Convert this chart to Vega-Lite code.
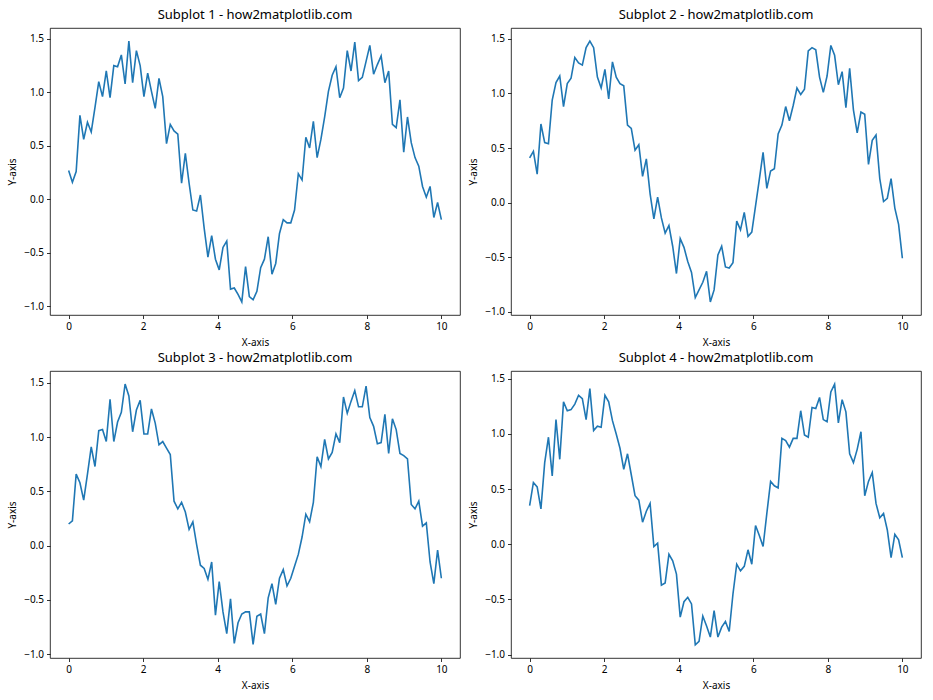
{
  "$schema": "https://vega.github.io/schema/vega-lite/v6.json",
  "padding": {"left": 7, "top": 8, "right": 5, "bottom": 5},
  "background": "white",
  "datasets": {
    "s1": [{"x":0,"y":0.27},{"x":0.101,"y":0.16},{"x":0.202,"y":0.26},{"x":0.303,"y":0.785},{"x":0.404,"y":0.56},{"x":0.505,"y":0.72},{"x":0.606,"y":0.63},{"x":0.707,"y":0.86},{"x":0.808,"y":1.10},{"x":0.909,"y":0.96},
{"x":1.010,"y":1.20},{"x":1.111,"y":0.95},{"x":1.212,"y":1.25},{"x":1.313,"y":1.24},{"x":1.414,"y":1.35},{"x":1.515,"y":1.08},{"x":1.616,"y":1.48},{"x":1.717,"y":1.09},{"x":1.818,"y":1.39},{"x":1.919,"y":1.25},
{"x":2.020,"y":0.96},{"x":2.121,"y":1.18},{"x":2.222,"y":1.01},{"x":2.323,"y":0.85},{"x":2.424,"y":1.13},{"x":2.525,"y":0.96},{"x":2.626,"y":0.52},{"x":2.727,"y":0.70},{"x":2.828,"y":0.64},{"x":2.929,"y":0.61},
{"x":3.030,"y":0.15},{"x":3.131,"y":0.43},{"x":3.232,"y":0.15},{"x":3.333,"y":-0.10},{"x":3.434,"y":-0.11},{"x":3.535,"y":0.04},{"x":3.636,"y":-0.27},{"x":3.737,"y":-0.54},{"x":3.838,"y":-0.34},{"x":3.939,"y":-0.56},
{"x":4.040,"y":-0.66},{"x":4.141,"y":-0.45},{"x":4.242,"y":-0.39},{"x":4.343,"y":-0.84},{"x":4.444,"y":-0.83},{"x":4.545,"y":-0.89},{"x":4.646,"y":-0.96},{"x":4.747,"y":-0.63},{"x":4.848,"y":-0.91},{"x":4.949,"y":-0.94},
{"x":5.051,"y":-0.86},{"x":5.152,"y":-0.64},{"x":5.253,"y":-0.56},{"x":5.354,"y":-0.35},{"x":5.455,"y":-0.70},{"x":5.556,"y":-0.60},{"x":5.657,"y":-0.32},{"x":5.758,"y":-0.19},{"x":5.859,"y":-0.22},{"x":5.960,"y":-0.22},
{"x":6.061,"y":-0.10},{"x":6.162,"y":0.24},{"x":6.263,"y":0.18},{"x":6.364,"y":0.58},{"x":6.465,"y":0.48},{"x":6.566,"y":0.73},{"x":6.667,"y":0.39},{"x":6.768,"y":0.56},{"x":6.869,"y":0.77},{"x":6.970,"y":1.01},
{"x":7.071,"y":1.16},{"x":7.172,"y":1.24},{"x":7.273,"y":0.95},{"x":7.374,"y":1.04},{"x":7.475,"y":1.39},{"x":7.576,"y":1.20},{"x":7.677,"y":1.47},{"x":7.778,"y":1.11},{"x":7.879,"y":1.14},{"x":7.980,"y":1.29},
{"x":8.081,"y":1.44},{"x":8.182,"y":1.17},{"x":8.283,"y":1.26},{"x":8.384,"y":1.34},{"x":8.485,"y":1.09},{"x":8.586,"y":1.20},{"x":8.687,"y":0.70},{"x":8.788,"y":0.67},{"x":8.889,"y":0.93},{"x":8.990,"y":0.44},
{"x":9.091,"y":0.77},{"x":9.192,"y":0.53},{"x":9.293,"y":0.39},{"x":9.394,"y":0.31},{"x":9.495,"y":0.12},{"x":9.596,"y":0.02},{"x":9.697,"y":0.12},{"x":9.798,"y":-0.17},{"x":9.899,"y":-0.03},{"x":10,"y":-0.19}],
    "s2": [{"x":0,"y":0.41},{"x":0.101,"y":0.47},{"x":0.202,"y":0.26},{"x":0.303,"y":0.72},{"x":0.404,"y":0.55},{"x":0.505,"y":0.54},{"x":0.606,"y":0.94},{"x":0.707,"y":1.10},{"x":0.808,"y":1.16},{"x":0.909,"y":0.88},
{"x":1.010,"y":1.09},{"x":1.111,"y":1.14},{"x":1.212,"y":1.33},{"x":1.313,"y":1.28},{"x":1.414,"y":1.26},{"x":1.515,"y":1.42},{"x":1.616,"y":1.48},{"x":1.717,"y":1.42},{"x":1.818,"y":1.15},{"x":1.919,"y":1.05},
{"x":2.020,"y":1.22},{"x":2.121,"y":0.95},{"x":2.222,"y":1.29},{"x":2.323,"y":1.15},{"x":2.424,"y":1.09},{"x":2.525,"y":1.07},{"x":2.626,"y":0.71},{"x":2.727,"y":0.68},{"x":2.828,"y":0.48},{"x":2.929,"y":0.53},
{"x":3.030,"y":0.24},{"x":3.131,"y":0.40},{"x":3.232,"y":0.08},{"x":3.333,"y":-0.15},{"x":3.434,"y":0.05},{"x":3.535,"y":-0.14},{"x":3.636,"y":-0.28},{"x":3.737,"y":-0.21},{"x":3.838,"y":-0.40},{"x":3.939,"y":-0.65},
{"x":4.040,"y":-0.33},{"x":4.141,"y":-0.41},{"x":4.242,"y":-0.54},{"x":4.343,"y":-0.64},{"x":4.444,"y":-0.87},{"x":4.545,"y":-0.80},{"x":4.646,"y":-0.73},{"x":4.747,"y":-0.63},{"x":4.848,"y":-0.91},{"x":4.949,"y":-0.80},
{"x":5.051,"y":-0.48},{"x":5.152,"y":-0.40},{"x":5.253,"y":-0.59},{"x":5.354,"y":-0.60},{"x":5.455,"y":-0.55},{"x":5.556,"y":-0.17},{"x":5.657,"y":-0.25},{"x":5.758,"y":-0.09},{"x":5.859,"y":-0.31},{"x":5.960,"y":-0.27},
{"x":6.061,"y":-0.03},{"x":6.162,"y":0.21},{"x":6.263,"y":0.46},{"x":6.364,"y":0.13},{"x":6.465,"y":0.29},{"x":6.566,"y":0.31},{"x":6.667,"y":0.63},{"x":6.768,"y":0.71},{"x":6.869,"y":0.88},{"x":6.970,"y":0.75},
{"x":7.071,"y":0.89},{"x":7.172,"y":1.05},{"x":7.273,"y":0.99},{"x":7.374,"y":1.04},{"x":7.475,"y":1.39},{"x":7.576,"y":1.42},{"x":7.677,"y":1.40},{"x":7.778,"y":1.15},{"x":7.879,"y":1.01},{"x":7.980,"y":1.16},
{"x":8.081,"y":1.44},{"x":8.182,"y":1.35},{"x":8.283,"y":1.08},{"x":8.384,"y":1.20},{"x":8.485,"y":0.87},{"x":8.586,"y":1.23},{"x":8.687,"y":0.85},{"x":8.788,"y":0.64},{"x":8.889,"y":0.83},{"x":8.990,"y":0.81},
{"x":9.091,"y":0.35},{"x":9.192,"y":0.57},{"x":9.293,"y":0.62},{"x":9.394,"y":0.22},{"x":9.495,"y":0.01},{"x":9.596,"y":0.04},{"x":9.697,"y":0.22},{"x":9.798,"y":-0.05},{"x":9.899,"y":-0.20},{"x":10,"y":-0.51}],
    "s3": [{"x":0,"y":0.20},{"x":0.101,"y":0.23},{"x":0.202,"y":0.66},{"x":0.303,"y":0.58},{"x":0.404,"y":0.42},{"x":0.505,"y":0.66},{"x":0.606,"y":0.91},{"x":0.707,"y":0.73},{"x":0.808,"y":1.06},{"x":0.909,"y":1.07},
{"x":1.010,"y":0.96},{"x":1.111,"y":1.35},{"x":1.212,"y":0.96},{"x":1.313,"y":1.14},{"x":1.414,"y":1.23},{"x":1.515,"y":1.49},{"x":1.616,"y":1.38},{"x":1.717,"y":1.05},{"x":1.818,"y":1.25},{"x":1.919,"y":1.34},
{"x":2.020,"y":1.03},{"x":2.121,"y":1.03},{"x":2.222,"y":1.26},{"x":2.323,"y":1.13},{"x":2.424,"y":0.93},{"x":2.525,"y":0.96},{"x":2.626,"y":0.90},{"x":2.727,"y":0.84},{"x":2.828,"y":0.41},{"x":2.929,"y":0.34},
{"x":3.030,"y":0.40},{"x":3.131,"y":0.31},{"x":3.232,"y":0.15},{"x":3.333,"y":0.22},{"x":3.434,"y":0.01},{"x":3.535,"y":-0.18},{"x":3.636,"y":-0.21},{"x":3.737,"y":-0.31},{"x":3.838,"y":-0.15},{"x":3.939,"y":-0.64},
{"x":4.040,"y":-0.33},{"x":4.141,"y":-0.61},{"x":4.242,"y":-0.81},{"x":4.343,"y":-0.49},{"x":4.444,"y":-0.90},{"x":4.545,"y":-0.71},{"x":4.646,"y":-0.63},{"x":4.747,"y":-0.61},{"x":4.848,"y":-0.61},{"x":4.949,"y":-0.91},
{"x":5.051,"y":-0.65},{"x":5.152,"y":-0.63},{"x":5.253,"y":-0.81},{"x":5.354,"y":-0.48},{"x":5.455,"y":-0.35},{"x":5.556,"y":-0.54},{"x":5.657,"y":-0.30},{"x":5.758,"y":-0.22},{"x":5.859,"y":-0.37},{"x":5.960,"y":-0.30},
{"x":6.061,"y":-0.19},{"x":6.162,"y":-0.08},{"x":6.263,"y":0.08},{"x":6.364,"y":0.29},{"x":6.465,"y":0.22},{"x":6.566,"y":0.40},{"x":6.667,"y":0.82},{"x":6.768,"y":0.73},{"x":6.869,"y":0.98},{"x":6.970,"y":0.80},
{"x":7.071,"y":0.86},{"x":7.172,"y":1.03},{"x":7.273,"y":0.95},{"x":7.374,"y":1.37},{"x":7.475,"y":1.22},{"x":7.576,"y":1.33},{"x":7.677,"y":1.43},{"x":7.778,"y":1.28},{"x":7.879,"y":1.28},{"x":7.980,"y":1.47},
{"x":8.081,"y":1.18},{"x":8.182,"y":1.10},{"x":8.283,"y":0.94},{"x":8.384,"y":0.95},{"x":8.485,"y":1.21},{"x":8.586,"y":0.85},{"x":8.687,"y":1.17},{"x":8.788,"y":1.07},{"x":8.889,"y":0.85},{"x":8.990,"y":0.83},
{"x":9.091,"y":0.80},{"x":9.192,"y":0.38},{"x":9.293,"y":0.34},{"x":9.394,"y":0.41},{"x":9.495,"y":0.18},{"x":9.596,"y":0.21},{"x":9.697,"y":-0.15},{"x":9.798,"y":-0.35},{"x":9.899,"y":-0.04},{"x":10,"y":-0.30}],
    "s4": [{"x":0,"y":0.35},{"x":0.101,"y":0.56},{"x":0.202,"y":0.52},{"x":0.303,"y":0.32},{"x":0.404,"y":0.74},{"x":0.505,"y":0.97},{"x":0.606,"y":0.62},{"x":0.707,"y":1.13},{"x":0.808,"y":0.77},{"x":0.909,"y":1.29},
{"x":1.010,"y":1.21},{"x":1.111,"y":1.22},{"x":1.212,"y":1.27},{"x":1.313,"y":1.35},{"x":1.414,"y":1.32},{"x":1.515,"y":1.13},{"x":1.616,"y":1.41},{"x":1.717,"y":1.03},{"x":1.818,"y":1.07},{"x":1.919,"y":1.06},
{"x":2.020,"y":1.35},{"x":2.121,"y":1.29},{"x":2.222,"y":1.12},{"x":2.323,"y":1.00},{"x":2.424,"y":0.87},{"x":2.525,"y":0.68},{"x":2.626,"y":0.82},{"x":2.727,"y":0.63},{"x":2.828,"y":0.44},{"x":2.929,"y":0.40},
{"x":3.030,"y":0.20},{"x":3.131,"y":0.30},{"x":3.232,"y":0.37},{"x":3.333,"y":-0.02},{"x":3.434,"y":0.01},{"x":3.535,"y":-0.37},{"x":3.636,"y":-0.35},{"x":3.737,"y":-0.09},{"x":3.838,"y":-0.15},{"x":3.939,"y":-0.27},
{"x":4.040,"y":-0.66},{"x":4.141,"y":-0.52},{"x":4.242,"y":-0.48},{"x":4.343,"y":-0.54},{"x":4.444,"y":-0.91},{"x":4.545,"y":-0.88},{"x":4.646,"y":-0.65},{"x":4.747,"y":-0.74},{"x":4.848,"y":-0.84},{"x":4.949,"y":-0.60},
{"x":5.051,"y":-0.84},{"x":5.152,"y":-0.75},{"x":5.253,"y":-0.70},{"x":5.354,"y":-0.79},{"x":5.455,"y":-0.45},{"x":5.556,"y":-0.18},{"x":5.657,"y":-0.24},{"x":5.758,"y":-0.20},{"x":5.859,"y":-0.05},{"x":5.960,"y":-0.18},
{"x":6.061,"y":0.17},{"x":6.162,"y":0.08},{"x":6.263,"y":-0.02},{"x":6.364,"y":0.28},{"x":6.465,"y":0.57},{"x":6.566,"y":0.53},{"x":6.667,"y":0.51},{"x":6.768,"y":0.96},{"x":6.869,"y":0.94},{"x":6.970,"y":0.88},
{"x":7.071,"y":0.96},{"x":7.172,"y":0.96},{"x":7.273,"y":1.21},{"x":7.374,"y":0.99},{"x":7.475,"y":0.97},{"x":7.576,"y":1.24},{"x":7.677,"y":1.23},{"x":7.778,"y":1.33},{"x":7.879,"y":1.13},{"x":7.980,"y":1.11},
{"x":8.081,"y":1.38},{"x":8.182,"y":1.45},{"x":8.283,"y":1.10},{"x":8.384,"y":1.31},{"x":8.485,"y":1.20},{"x":8.586,"y":0.82},{"x":8.687,"y":0.74},{"x":8.788,"y":0.86},{"x":8.889,"y":1.02},{"x":8.990,"y":0.44},
{"x":9.091,"y":0.57},{"x":9.192,"y":0.65},{"x":9.293,"y":0.37},{"x":9.394,"y":0.24},{"x":9.495,"y":0.28},{"x":9.596,"y":0.13},{"x":9.697,"y":-0.12},{"x":9.798,"y":0.09},{"x":9.899,"y":0.04},{"x":10,"y":-0.12}]
  },
  "columns": 2,
  "bounds": "flush",
  "spacing": {"row": 56, "column": 51},
  "concat": [
    {
      "title": "Subplot 1 - how2matplotlib.com",
      "width": 410, "height": 287,
      "data": {"name": "s1"},
      "mark": {"type": "line", "color": "#1f77b4", "strokeWidth": 1.6},
      "encoding": {
        "x": {"field": "x", "type": "quantitative", "scale": {"domain": [-0.5, 10.5], "nice": false, "zero": false}, "axis": {"title": "X-axis", "values": [0, 2, 4, 6, 8, 10], "format": "d"}},
        "y": {"field": "y", "type": "quantitative", "scale": {"domain": [-1.082, 1.602], "nice": false, "zero": false}, "axis": {"title": "Y-axis", "values": [-1, -0.5, 0, 0.5, 1, 1.5], "format": ".1f"}}
      }
    },
    {
      "title": "Subplot 2 - how2matplotlib.com",
      "width": 410, "height": 287,
      "data": {"name": "s2"},
      "mark": {"type": "line", "color": "#1f77b4", "strokeWidth": 1.6},
      "encoding": {
        "x": {"field": "x", "type": "quantitative", "scale": {"domain": [-0.5, 10.5], "nice": false, "zero": false}, "axis": {"title": "X-axis", "values": [0, 2, 4, 6, 8, 10], "format": "d"}},
        "y": {"field": "y", "type": "quantitative", "scale": {"domain": [-1.03, 1.6], "nice": false, "zero": false}, "axis": {"title": "Y-axis", "values": [-1, -0.5, 0, 0.5, 1, 1.5], "format": ".1f"}}
      }
    },
    {
      "title": "Subplot 3 - how2matplotlib.com",
      "width": 410, "height": 287,
      "data": {"name": "s3"},
      "mark": {"type": "line", "color": "#1f77b4", "strokeWidth": 1.6},
      "encoding": {
        "x": {"field": "x", "type": "quantitative", "scale": {"domain": [-0.5, 10.5], "nice": false, "zero": false}, "axis": {"title": "X-axis", "values": [0, 2, 4, 6, 8, 10], "format": "d"}},
        "y": {"field": "y", "type": "quantitative", "scale": {"domain": [-1.035, 1.61], "nice": false, "zero": false}, "axis": {"title": "Y-axis", "values": [-1, -0.5, 0, 0.5, 1, 1.5], "format": ".1f"}}
      }
    },
    {
      "title": "Subplot 4 - how2matplotlib.com",
      "width": 410, "height": 287,
      "data": {"name": "s4"},
      "mark": {"type": "line", "color": "#1f77b4", "strokeWidth": 1.6},
      "encoding": {
        "x": {"field": "x", "type": "quantitative", "scale": {"domain": [-0.5, 10.5], "nice": false, "zero": false}, "axis": {"title": "X-axis", "values": [0, 2, 4, 6, 8, 10], "format": "d"}},
        "y": {"field": "y", "type": "quantitative", "scale": {"domain": [-1.03, 1.57], "nice": false, "zero": false}, "axis": {"title": "Y-axis", "values": [-1, -0.5, 0, 0.5, 1, 1.5], "format": ".1f"}}
      }
    }
  ],
  "config": {
    "font": "Noto Sans",
    "view": {"stroke": "#000", "strokeWidth": 0.8},
    "axis": {"domain": false, "grid": false, "tickColor": "#000", "tickSize": 3.5, "tickWidth": 0.8, "labelFontSize": 10, "labelColor": "#000", "labelPadding": 3, "titleFontSize": 10, "titleFontWeight": "normal", "titleColor": "#000", "titlePadding": 6},
    "title": {"fontSize": 13, "fontWeight": "normal", "color": "#000", "offset": 6}
  }
}
